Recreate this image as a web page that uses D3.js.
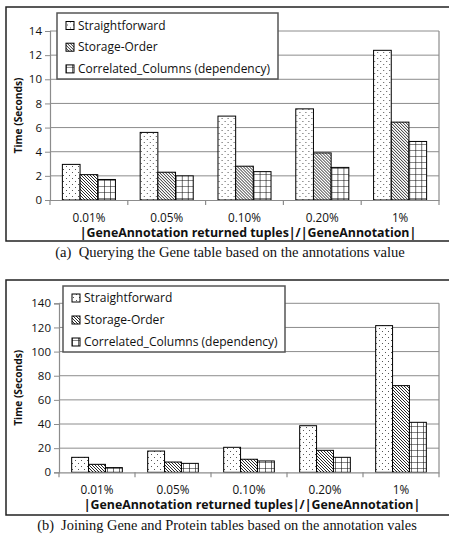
<!DOCTYPE html>
<html>
<head>
<meta charset="utf-8">
<script src="https://cdn.jsdelivr.net/npm/d3@7"></script>
<style>
html,body{margin:0;padding:0;background:#fff;}
svg{display:block;}
</style>
</head>
<body>
<svg id="chart" width="450" height="535"></svg>
<script>
// ---- data ----
const categories = ["0.01%", "0.05%", "0.10%", "0.20%", "1%"];
const seriesNames = ["Straightforward", "Storage-Order", "Correlated_Columns (dependency)"];

const geneStraightforward = [2.95, 5.6, 6.95, 7.55, 12.4];
const geneStorageOrder    = [2.1, 2.3, 2.8, 3.9, 6.45];
const geneCorrelated      = [1.7, 2.0, 2.35, 2.7, 4.85];

const joinStraightforward = [12.4, 17.6, 20.7, 38.6, 121.5];
const joinStorageOrder    = [6.6, 8.5, 10.8, 18.2, 71.8];
const joinCorrelated      = [3.9, 7.4, 9.4, 12.4, 41.4];

const yTicksGene = [0, 2, 4, 6, 8, 10, 12, 14];
const yTicksJoin = [0, 20, 40, 60, 80, 100, 120, 140];

const yTitle = "Time (Seconds)";
const xTitle = "|GeneAnnotation returned tuples|/|GeneAnnotation|";
const captionA = "(a)  Querying the Gene table based on the annotations value";
const captionB = "(b)  Joining Gene and Protein tables based on the annotation vales";

// ---- drawing ----
const svg = d3.select("#chart");
const defs = svg.append("defs");
const SANS = "'Open Sans', sans-serif";

// scale a text's font so that its rendered width matches a target width
function fitSize(sel, target) {
  const node = sel.node();
  const fs = parseFloat(sel.attr("font-size"));
  const w = node.getComputedTextLength();
  return w > 0 ? fs * target / w : fs;
}

// dotted pattern
const pDots = defs.append("pattern").attr("id", "pDots").attr("patternUnits", "userSpaceOnUse")
  .attr("width", 6).attr("height", 6);
pDots.append("rect").attr("width", 6).attr("height", 6).attr("fill", "#fff");
pDots.append("rect").attr("x", 1).attr("y", 1).attr("width", 1).attr("height", 1).attr("fill", "#555");
pDots.append("rect").attr("x", 4).attr("y", 4).attr("width", 1).attr("height", 1).attr("fill", "#555");

// diagonal hatch pattern
const pDiag = defs.append("pattern").attr("id", "pDiag").attr("patternUnits", "userSpaceOnUse")
  .attr("width", 3).attr("height", 3);
pDiag.append("rect").attr("width", 3).attr("height", 3).attr("fill", "#fff");
pDiag.append("path").attr("d", "M-1,-1L4,4M-1,2L1,4M2,-1L4,1")
  .attr("stroke", "#111").attr("stroke-width", 0.9);

// grid pattern
const pGrid = defs.append("pattern").attr("id", "pGrid").attr("patternUnits", "userSpaceOnUse")
  .attr("width", 6).attr("height", 6);
pGrid.append("rect").attr("width", 6).attr("height", 6).attr("fill", "#fff");
pGrid.append("path").attr("d", "M0,0V6M0,0H6").attr("stroke", "#111").attr("stroke-width", 1.2);

const fills = ["url(#pDots)", "url(#pDiag)", "url(#pGrid)"];

function drawPanel(cfg) {
  const g = svg.append("g");
  // outer frame
  g.append("path")
    .attr("d", `M${cfg.box[2]},${cfg.box[1]}H${cfg.box[0]}V${cfg.box[3]}H${cfg.box[2]}`)
    .attr("fill", "none").attr("stroke", "#222").attr("stroke-width", 1.5);

  const x = d3.scaleBand().domain(categories).range([cfg.left, cfg.right]).paddingInner(0).paddingOuter(0);
  const xs = d3.scaleBand().domain(seriesNames).range([0, x.bandwidth()]).paddingInner(0).paddingOuter(cfg.pad);
  const y = d3.scaleLinear().domain([0, cfg.yMax]).range([cfg.bottom, cfg.top]);

  // gridlines
  g.append("g").selectAll("line").data(cfg.yTicks.slice(1)).join("line")
    .attr("x1", cfg.left).attr("x2", cfg.right)
    .attr("y1", d => y(d)).attr("y2", d => y(d))
    .attr("stroke", "#8c8c8c").attr("stroke-width", 1);
  // right border
  g.append("line").attr("x1", cfg.right).attr("x2", cfg.right).attr("y1", cfg.top).attr("y2", cfg.bottom)
    .attr("stroke", "#8c8c8c").attr("stroke-width", 1.2);

  // y axis
  const yAxis = d3.axisLeft(y).tickValues(cfg.yTicks).tickSize(5).tickPadding(3).tickFormat(d3.format("d"));
  const ya = g.append("g").attr("transform", `translate(${cfg.left},0)`).call(yAxis);
  ya.select(".domain").attr("stroke", "#8c8c8c").attr("stroke-width", 1.2);
  ya.selectAll(".tick line").attr("stroke", "#8c8c8c");
  ya.selectAll(".tick text").attr("font-family", SANS).attr("font-size", 11.5).attr("fill", "#111");

  // bars
  const rows = categories.map((c, i) => ({ c, vals: cfg.series.map(s => s[i]) }));
  const grp = g.append("g").selectAll("g").data(rows).join("g")
    .attr("transform", d => `translate(${x(d.c)},0)`);
  grp.selectAll("rect").data(d => d.vals.map((v, k) => ({ v, k }))).join("rect")
    .attr("x", d => xs(seriesNames[d.k]))
    .attr("width", xs.bandwidth())
    .attr("y", d => y(d.v))
    .attr("height", d => y(0) - y(d.v))
    .attr("fill", d => fills[d.k])
    .attr("stroke", "#000").attr("stroke-width", 1);

  // x axis
  const xAxis = d3.axisBottom(x).tickSize(0).tickPadding(0);
  const xa = g.append("g").attr("transform", `translate(0,${cfg.bottom})`).call(xAxis);
  xa.select(".domain").attr("stroke", "#8c8c8c").attr("stroke-width", 1.2);
  const xt = xa.selectAll(".tick text").attr("y", cfg.xLabelY - cfg.bottom).attr("dy", 0)
    .attr("font-family", SANS).attr("font-size", 11).attr("fill", "#111");
  const xfs = fitSize(xa.select(".tick text"), 33);
  xt.attr("font-size", xfs);
  // boundary ticks
  const bounds = categories.map(c => x(c)).concat([cfg.right]);
  xa.selectAll(".bnd").data(bounds).join("line").attr("class", "bnd")
    .attr("x1", d => d).attr("x2", d => d).attr("y1", 0).attr("y2", 5)
    .attr("stroke", "#8c8c8c").attr("stroke-width", 1.2);

  // axis titles
  const xT = g.append("text").attr("x", cfg.xTitleCx).attr("y", cfg.xTitleY)
    .attr("text-anchor", "middle").attr("font-family", SANS)
    .attr("font-weight", "bold").attr("font-size", 11.5).attr("fill", "#111").text(xTitle);
  xT.attr("font-size", fitSize(xT, cfg.xTitleW));
  const yT = g.append("text").attr("transform", `translate(${cfg.yTitleX},${(cfg.top + cfg.bottom) / 2}) rotate(-90)`)
    .attr("text-anchor", "middle").attr("font-family", SANS)
    .attr("font-weight", "bold").attr("font-size", 11.5).attr("fill", "#111").text(yTitle);
  yT.attr("font-size", fitSize(yT, 76));

  // legend
  const lg = g.append("g");
  lg.append("rect").attr("x", cfg.legend[0]).attr("y", cfg.legend[1])
    .attr("width", cfg.legend[2] - cfg.legend[0]).attr("height", cfg.legend[3] - cfg.legend[1])
    .attr("fill", "#fff").attr("stroke", "#555").attr("stroke-width", 1.5);
  const items = lg.selectAll("g").data(seriesNames).join("g")
    .attr("transform", (d, i) => `translate(${cfg.legend[0] + 9},${cfg.legendY0 + i * cfg.legendDy})`);
  items.append("rect").attr("x", 0).attr("y", -8).attr("width", 8).attr("height", 8)
    .attr("fill", (d, i) => fills[i]).attr("stroke", "#000").attr("stroke-width", 1);
  const lt = items.append("text").attr("x", 12).attr("y", 0)
    .attr("font-family", SANS).attr("font-size", 11).attr("fill", "#111").text(d => d);
  const lfs = fitSize(d3.select(lt.nodes()[2]), cfg.legendW);
  lt.attr("font-size", lfs);

  // caption
  const cap = g.append("text").attr("x", cfg.captionCx).attr("y", cfg.captionY)
    .attr("text-anchor", "middle")
    .attr("font-family", "'Liberation Serif', 'Times New Roman', serif").attr("font-size", 11)
    .attr("fill", "#111").style("white-space", "pre").text(cfg.caption);
  cap.attr("font-size", fitSize(cap, cfg.captionW));
}

drawPanel({
  box: [6, 7, 449, 241],
  left: 50, right: 439, top: 31, bottom: 200,
  yMax: 14, yTicks: yTicksGene, pad: 0.7,
  series: [geneStraightforward, geneStorageOrder, geneCorrelated],
  xLabelY: 222, xTitleY: 237, yTitleX: 22, xTitleCx: 248, xTitleW: 337,
  legend: [57, 13, 278, 79], legendY0: 29.5, legendDy: 21.7, legendW: 192,
  caption: captionA, captionCx: 230, captionW: 350, captionY: 257
});

drawPanel({
  box: [6, 280, 449, 515],
  left: 59, right: 439, top: 303.3, bottom: 472.3,
  yMax: 140, yTicks: yTicksJoin, pad: 0.75,
  series: [joinStraightforward, joinStorageOrder, joinCorrelated],
  xLabelY: 494, xTitleY: 509, yTitleX: 22, xTitleCx: 252, xTitleW: 337,
  legend: [63, 286, 285, 352], legendY0: 302, legendDy: 22, legendW: 194,
  caption: captionB, captionCx: 227, captionW: 380, captionY: 530
});
</script>
</body>
</html>
